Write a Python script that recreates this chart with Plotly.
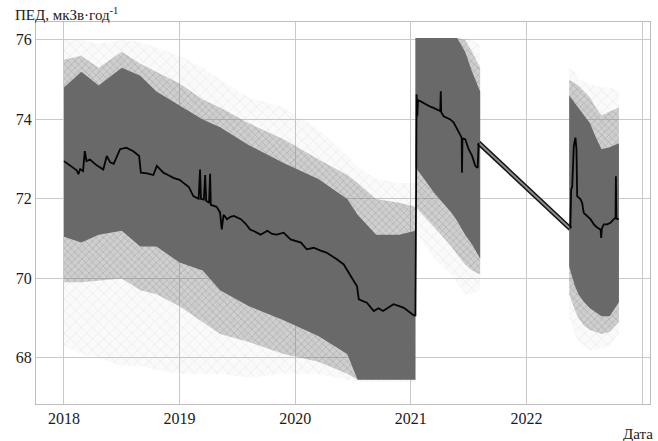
import plotly.graph_objects as go

# ---------------- data ----------------
# Segment 1 cloud envelopes (decimal years)
s1_x = [2018.00, 2018.15, 2018.30, 2018.50, 2018.66, 2018.80, 2019.00, 2019.20, 2019.35,
        2019.60, 2019.90, 2020.20, 2020.45, 2020.54, 2020.70, 2020.90, 2021.04]
s1_sparse_top = [76.00, 76.00, 75.90, 76.00, 75.95, 75.80, 75.60, 75.30, 75.00,
                 74.55, 74.30, 73.75, 73.10, 72.80, 72.50, 72.40, 72.40]
s1_mid_top = [75.50, 75.60, 75.30, 75.70, 75.40, 75.20, 74.90, 74.50, 74.30,
              73.90, 73.50, 73.00, 72.60, 72.40, 72.00, 71.90, 71.80]
s1_dense_top = [74.80, 75.20, 74.85, 75.30, 75.10, 74.70, 74.35, 74.00, 73.80,
                73.35, 72.90, 72.50, 72.00, 71.60, 71.10, 71.10, 71.20]
s1_dense_bot = [71.05, 70.90, 71.10, 71.20, 70.80, 70.80, 70.40, 70.20, 69.70,
                69.30, 68.95, 68.55, 68.10, 67.45, 67.45, 67.45, 67.45]
s1_mid_bot = [69.90, 69.90, 69.95, 70.00, 69.70, 69.60, 69.30, 68.90, 68.60,
              68.40, 68.10, 67.90, 67.60, 67.45, 67.45, 67.45, 67.45]
s1_sparse_bot = [68.30, 68.10, 68.00, 67.80, 67.80, 67.70, 67.60, 67.60, 67.60,
                 67.50, 67.60, 67.60, 67.45, 67.40, 67.40, 67.40, 67.40]

# Segment 2 cloud envelopes
s2_x = [2021.04, 2021.20, 2021.35, 2021.40, 2021.47, 2021.53, 2021.60]
s2_sparse_top = [76.05, 76.05, 76.05, 76.05, 76.05, 76.00, 75.85]
s2_mid_top = [76.05, 76.05, 76.05, 76.05, 76.00, 75.70, 75.30]
s2_dense_top = [76.05, 76.05, 76.05, 76.05, 75.70, 75.20, 74.70]
s2_dense_bot = [72.80, 72.16, 71.66, 71.45, 71.10, 70.85, 70.50]
s2_mid_bot = [71.80, 71.30, 70.80, 70.60, 70.35, 70.20, 70.10]
s2_sparse_bot = [71.20, 70.50, 70.10, 69.90, 69.60, 69.60, 69.70]

# Segment 3 cloud envelopes
s3_x = [2022.37, 2022.42, 2022.45, 2022.50, 2022.55, 2022.60, 2022.65, 2022.72, 2022.80]
s3_sparse_top = [75.30, 75.20, 75.00, 74.95, 74.90, 74.85, 74.80, 74.80, 74.70]
s3_mid_top = [75.00, 74.90, 74.85, 74.70, 74.55, 74.30, 74.10, 74.20, 74.30]
s3_dense_top = [74.60, 74.40, 74.30, 74.10, 73.90, 73.55, 73.25, 73.30, 73.40]
s3_dense_bot = [70.30, 69.80, 69.60, 69.40, 69.25, 69.15, 69.05, 69.05, 69.40]
s3_mid_bot = [69.60, 69.20, 69.00, 68.80, 68.70, 68.65, 68.60, 68.65, 68.90]
s3_sparse_bot = [69.00, 68.60, 68.40, 68.30, 68.20, 68.20, 68.25, 68.30, 68.60]

# Moving-average line
line1_x = [2018.00, 2018.05, 2018.08, 2018.11, 2018.125, 2018.14, 2018.165, 2018.18, 2018.195,
           2018.225, 2018.28, 2018.34, 2018.37, 2018.40, 2018.43, 2018.485, 2018.54, 2018.60,
           2018.65, 2018.665, 2018.72, 2018.773, 2018.803, 2018.86, 2018.90, 2018.946, 2019.00,
           2019.033, 2019.08, 2019.119, 2019.165, 2019.177, 2019.185, 2019.21, 2019.221, 2019.23,
           2019.255, 2019.264, 2019.27, 2019.32, 2019.35, 2019.365, 2019.38, 2019.41, 2019.44,
           2019.47, 2019.53, 2019.57, 2019.61, 2019.65, 2019.70, 2019.76, 2019.80, 2019.84,
           2019.90, 2019.96, 2020.05, 2020.10, 2020.16, 2020.22, 2020.27, 2020.36, 2020.42,
           2020.48, 2020.535, 2020.55, 2020.62, 2020.68, 2020.72, 2020.76, 2020.81, 2020.85,
           2020.90, 2020.94, 2020.99, 2021.035]
line1_y = [72.95, 72.85, 72.78, 72.72, 72.62, 72.75, 72.70, 73.20, 72.95,
           72.99, 72.85, 72.74, 73.08, 72.92, 72.88, 73.25, 73.29, 73.20,
           73.08, 72.66, 72.64, 72.60, 72.83, 72.66, 72.60, 72.53, 72.48,
           72.40, 72.30, 72.07, 72.00, 72.74, 72.00, 71.98, 72.60, 71.95,
           71.90, 72.63, 71.85, 71.80, 71.66, 71.23, 71.60, 71.49, 71.55,
           71.57, 71.49, 71.38, 71.23, 71.18, 71.10, 71.20, 71.12, 71.10,
           71.15, 70.98, 70.90, 70.73, 70.77, 70.70, 70.65, 70.48, 70.35,
           70.06, 69.80, 69.47, 69.39, 69.18, 69.25, 69.18, 69.28, 69.35,
           69.30, 69.26, 69.15, 69.05]

line2_x = [2021.04, 2021.045, 2021.05, 2021.056, 2021.062, 2021.082, 2021.126, 2021.169, 2021.197,
           2021.227, 2021.255, 2021.259, 2021.263, 2021.284, 2021.342, 2021.371, 2021.400, 2021.429,
           2021.440, 2021.443, 2021.447, 2021.471, 2021.500, 2021.530, 2021.558, 2021.578, 2021.587]
line2_y = [69.05, 74.50, 74.63, 74.08, 74.48, 74.46, 74.38, 74.32, 74.29,
           74.25, 74.21, 74.71, 74.18, 74.08, 74.00, 73.92, 73.75, 73.62,
           73.54, 72.66, 73.52, 73.50, 73.25, 73.08, 72.83, 72.78, 73.41]

gap_x = [2021.587, 2022.38]
gap_y = [73.41, 71.25]

line3_x = [2022.38, 2022.387, 2022.396, 2022.410, 2022.424, 2022.433, 2022.439, 2022.468, 2022.482,
           2022.496, 2022.525, 2022.554, 2022.583, 2022.612, 2022.641, 2022.647, 2022.652, 2022.669,
           2022.698, 2022.727, 2022.756, 2022.771, 2022.774, 2022.778, 2022.799]
line3_y = [71.25, 72.24, 72.30, 73.33, 73.54, 73.25, 72.07, 71.99, 71.90,
           71.65, 71.57, 71.49, 71.36, 71.28, 71.23, 71.02, 71.25, 71.36,
           71.36, 71.40, 71.49, 71.53, 72.57, 71.50, 71.49]

x_ticks = [2018, 2019, 2020, 2021, 2022, 2023]
y_ticks = [68, 70, 72, 74, 76]

# ---------------- figure ----------------
fig = go.Figure()

segments = [
    (s1_x, s1_sparse_top, s1_mid_top, s1_dense_top, s1_dense_bot, s1_mid_bot, s1_sparse_bot),
    (s2_x, s2_sparse_top, s2_mid_top, s2_dense_top, s2_dense_bot, s2_mid_bot, s2_sparse_bot),
    (s3_x, s3_sparse_top, s3_mid_top, s3_dense_top, s3_dense_bot, s3_mid_bot, s3_sparse_bot),
]


def band(x, top, bot, **kw):
    return go.Scatter(x=list(x) + list(x)[::-1], y=list(top) + list(bot)[::-1],
                      mode="lines", fill="toself", line=dict(width=0),
                      hoverinfo="skip", showlegend=False, **kw)


for seg in segments:
    x, st, mt, dt, db, mb, sb = seg
    fig.add_trace(band(x, st, sb, fillcolor="rgba(0,0,0,0.02)",
                       fillpattern=dict(shape="x", fgcolor="#cfcfcf", size=8, solidity=0.12)))
for seg in segments:
    x, st, mt, dt, db, mb, sb = seg
    fig.add_trace(band(x, mt, mb, fillcolor="rgba(110,110,110,0.30)",
                       fillpattern=dict(shape="x", fgcolor="#9a9a9a", size=5, solidity=0.3)))
for seg in segments:
    x, st, mt, dt, db, mb, sb = seg
    fig.add_trace(band(x, dt, db, fillcolor="#696969"))

# diagonal double line across the gap
fig.add_trace(go.Scatter(x=gap_x, y=gap_y, mode="lines", line=dict(color="#111", width=5),
                         hoverinfo="skip", showlegend=False))
fig.add_trace(go.Scatter(x=gap_x, y=gap_y, mode="lines", line=dict(color="#8c8c8c", width=2),
                         hoverinfo="skip", showlegend=False))

for lx, ly in [(line1_x, line1_y), (line2_x, line2_y), (line3_x, line3_y)]:
    fig.add_trace(go.Scatter(x=lx, y=ly, mode="lines", line=dict(color="#050505", width=1.8),
                             hoverinfo="skip", showlegend=False))

FAM = "Liberation Serif"
font = dict(family=FAM, size=16, color="#1a1a1a")

fig.update_layout(
    width=658, height=441,
    margin=dict(l=36, r=8, t=22, b=37),
    paper_bgcolor="white", plot_bgcolor="white",
    font=font,
    showlegend=False,
    xaxis=dict(range=[2017.758, 2023.069], tickvals=x_ticks, ticktext=[str(v) for v in x_ticks],
               showgrid=True, gridcolor="#c9c9c9", gridwidth=1.3,
               showline=True, linecolor="#bdbdbd", linewidth=1.3, mirror=True,
               zeroline=False, ticks="", tickfont=font),
    yaxis=dict(range=[66.84, 76.45], tickvals=y_ticks, ticktext=[str(v) for v in y_ticks],
               showgrid=True, gridcolor="#c9c9c9", gridwidth=1.3,
               showline=True, linecolor="#bdbdbd", linewidth=1.3, mirror=True,
               zeroline=False, ticks="", tickfont=font),
    annotations=[
        dict(text="ПЕД, мкЗв·год<sup>-1</sup>", xref="paper", yref="paper",
             x=-36 / 614, y=1.0, xanchor="left", yanchor="bottom", xshift=13, yshift=-3,
             showarrow=False, font=dict(family=FAM, size=15, color="#1a1a1a")),
        dict(text="Дата", xref="paper", yref="paper", x=1.0, y=0, xanchor="right", yanchor="middle",
             yshift=-30, xshift=5, showarrow=False,
             font=dict(family=FAM, size=15, color="#1a1a1a")),
    ],
)

fig.write_html("out.html")
